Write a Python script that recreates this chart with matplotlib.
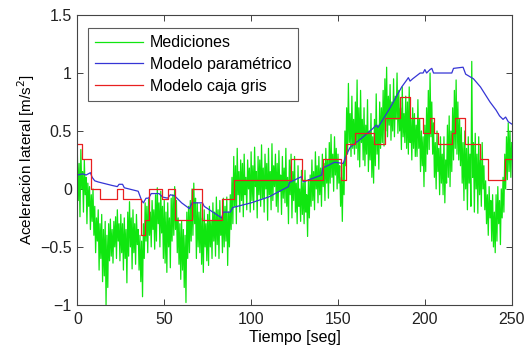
import numpy as np
import matplotlib
matplotlib.use("Agg")
from matplotlib import pyplot as plt

plt.rcParams['font.family'] = ['Liberation Sans', 'DejaVu Sans']

# Mediciones: valores leidos cada 0.5 s (t = 0 ... 250)
mediciones = [
    0.30, -0.10, 0.22, -0.24, 0.34, 0.00, 0.15, -0.20, 0.25, -0.05,
    0.10, -0.30, 0.05, -0.15, 0.02, -0.35, -0.05, -0.28, 0.00, -0.40,
    -0.15, -0.55, -0.25, -0.45, -0.18, -0.70, -0.30, -0.60, -0.22, -0.80,
    -0.35, -0.75, -0.28, -1.00, -0.40, -0.85, -0.30, -0.62, -0.26, -0.58,
    -0.35, -0.64, -0.28, -0.50, -0.24, -0.60, -0.18, -0.45, -0.30, -0.62,
    -0.22, -0.55, -0.30, -0.70, -0.25, -0.60, -0.35, -0.81, -0.20, -0.58,
    -0.11, -0.50, -0.25, -0.69, -0.18, -0.55, -0.30, -0.65, -0.22, -0.48,
    -0.35, -0.70, -0.40, -0.80, -0.45, -0.93, -0.30, -0.60, -0.12, -0.45,
    -0.15, -0.55, -0.09, -0.40, -0.20, -0.50, -0.10, -0.35, -0.18, -0.52,
    -0.05, -0.45, 0.01, -0.30, -0.12, -0.50, -0.02, -0.38, -0.15, -0.60,
    -0.10, -0.64, -0.20, -0.72, -0.12, -0.50, -0.25, -0.68, -0.08, -0.45,
    -0.05, -0.40, 0.02, -0.35, -0.10, -0.55, -0.25, -0.65, -0.30, -0.78,
    -0.28, -0.70, -0.35, -0.85, -0.40, -0.98, -0.20, -0.60, -0.15, -0.55,
    -0.10, -0.45, 0.00, -0.40, 0.05, -0.30, -0.08, -0.60, -0.12, -0.50,
    -0.20, -0.55, -0.13, -0.65, -0.25, -0.72, -0.18, -0.50, -0.30, -0.62,
    -0.22, -0.66, -0.15, -0.50, -0.28, -0.60, -0.12, -0.45, -0.20, -0.58,
    -0.07, -0.48, -0.18, -0.60, -0.10, -0.40, -0.25, -0.55, -0.08, -0.50,
    -0.15, -0.45, -0.07, -0.66, -0.20, -0.50, -0.05, -0.35, 0.10, -0.30,
    0.28, -0.15, 0.20, -0.30, 0.35, -0.05, 0.15, -0.20, 0.25, -0.10,
    0.22, -0.24, 0.30, -0.05, 0.10, -0.18, 0.25, 0.00, 0.18, -0.20,
    0.32, -0.10, 0.20, -0.18, 0.36, 0.02, 0.15, -0.25, 0.28, -0.05,
    0.25, -0.15, 0.38, -0.08, 0.18, -0.20, 0.30, 0.00, 0.22, -0.27,
    0.35, -0.05, 0.15, -0.18, 0.39, -0.10, 0.20, 0.02, 0.30, -0.15,
    0.22, -0.20, 0.33, -0.02, 0.12, -0.22, 0.28, -0.08, 0.18, -0.12,
    0.35, -0.15, 0.10, -0.30, 0.25, -0.05, 0.30, -0.25, 0.15, -0.10,
    0.28, -0.20, 0.05, -0.30, 0.20, -0.15, 0.00, -0.28, 0.16, -0.22,
    0.05, -0.30, 0.16, -0.20, -0.05, -0.41, 0.08, -0.25, 0.12, -0.15,
    0.25, -0.10, 0.15, -0.18, 0.32, 0.00, 0.20, -0.12, 0.28, -0.05,
    0.18, -0.15, 0.30, 0.02, 0.22, -0.10, 0.35, 0.05, 0.25, -0.08,
    0.40, 0.05, 0.47, 0.10, 0.30, -0.02, 0.45, 0.12, 0.35, 0.00,
    0.30, 0.05, 0.20, -0.15, 0.10, -0.28, 0.22, -0.05, 0.50, 0.20,
    0.70, 0.30, 0.91, 0.40, 0.65, 0.28, 0.80, 0.35, 0.60, 0.30,
    0.75, 0.35, 0.94, 0.25, 0.70, 0.19, 0.85, 0.40, 0.60, 0.25,
    0.70, 0.20, 0.55, 0.30, 0.77, 0.15, 0.50, 0.25, 0.65, 0.10,
    0.45, 0.05, 0.60, 0.20, 0.82, 0.30, 0.55, 0.17, 0.75, 0.35,
    0.70, 0.40, 0.85, 0.37, 0.95, 0.50, 1.05, 0.45, 0.80, 0.55,
    0.90, 0.42, 0.75, 0.50, 0.95, 0.45, 0.80, 0.60, 1.00, 0.48,
    0.85, 0.50, 0.70, 0.34, 0.88, 0.45, 0.65, 0.40, 0.80, 0.35,
    0.75, 0.30, 0.88, 0.40, 0.60, 0.25, 0.70, 0.35, 0.65, 0.28,
    0.55, 0.28, 0.77, 0.35, 0.60, 0.15, 0.50, 0.20, 0.45, 0.02,
    0.55, 0.15, 0.70, 0.30, 0.85, 0.34, 1.00, 0.45, 0.75, 0.30,
    0.57, 0.10, 0.40, 0.00, 0.50, 0.15, 0.35, -0.05, 0.45, 0.05,
    0.30, -0.05, 0.45, -0.12, 0.25, 0.05, 0.55, 0.10, 0.63, 0.02,
    0.50, 0.15, 0.70, 0.25, 0.85, 0.35, 0.94, 0.30, 0.75, 0.25,
    0.60, 0.20, 0.53, 0.05, 0.40, -0.10, 0.50, 0.00, 0.35, -0.18,
    0.45, 0.05, 0.30, -0.15, 1.10, 0.10, 0.40, -0.20, 0.48, 0.00,
    0.30, -0.21, 0.45, -0.05, 0.25, -0.15, 0.40, 0.00, 0.20, -0.18,
    0.07, -0.30, -0.05, -0.40, 0.02, -0.25, -0.10, -0.45, -0.05, -0.50,
    -0.20, -0.55, -0.05, -0.45, 0.02, -0.30, -0.10, -0.48, 0.00, -0.25,
    0.10, -0.20, 0.30, 0.00, 0.45, 0.08, 0.57, 0.15, 0.50, 0.10,
    0.40,
]
t_med = np.linspace(0, 250, len(mediciones))

# Modelo parametrico
t_param = [0, 3, 5, 7.5, 8.5, 10, 12, 20, 23, 24, 26, 27, 35, 37, 38, 39.5,
           41, 42.5, 47, 49, 52, 53.5, 56, 60, 64.5, 66, 72, 73, 83, 84, 88,
           89.5, 100, 110, 121.5, 122, 129, 130, 140.6, 141.2, 148, 153, 155,
           157, 163, 170, 172, 173, 180, 186.7, 189.6, 190.5, 191.5, 193,
           197.3, 199, 200, 201, 203, 204, 205, 215.5, 216.5, 222, 223.5,
           228, 232, 237.5, 241, 243, 245, 246.5, 248, 250]
param = [0.12, 0.13, 0.12, 0.14, 0.10, 0.07, 0.06, 0.03, 0.02, 0.04, 0.04,
         0.01, -0.02, -0.10, -0.12, -0.08, -0.08, -0.04, -0.04, -0.07, -0.08,
         -0.05, -0.06, -0.12, -0.17, -0.12, -0.12, -0.15, -0.25, -0.20,
         -0.20, -0.16, -0.12, -0.07, 0.02, 0.055, 0.106, 0.06, 0.12, 0.18,
         0.23, 0.22, 0.30, 0.36, 0.43, 0.52, 0.55, 0.53, 0.70, 0.88, 0.94,
         0.96, 0.93, 0.95, 1.00, 1.00, 1.03, 1.00, 1.03, 1.04, 1.00, 1.00,
         1.04, 1.05, 0.99, 0.95, 0.88, 0.75, 0.68, 0.63, 0.60, 0.62, 0.58,
         0.56]

# Modelo caja gris (escalones)
t_gris = [0, 2.7, 8, 13, 23, 26, 36.5, 39, 41.5, 48.6, 52, 56.4, 65.8, 72,
          83, 90, 122.9, 129.1, 141.5, 151.5, 154.5, 160, 170.5, 177, 185.5,
          191.5, 199, 203, 205.5, 207.5, 215.5, 217.4, 223, 232, 236.5,
          246.2, 250]
gris = [0.39, 0.26, 0.0, -0.09, 0.0, -0.09, -0.40, -0.27, 0.0, -0.09, 0.0,
        -0.27, 0.0, -0.27, -0.09, 0.08, 0.26, 0.08, 0.26, 0.08, 0.39, 0.48,
        0.39, 0.61, 0.79, 0.61, 0.48, 0.61, 0.48, 0.39, 0.48, 0.61, 0.39,
        0.26, 0.08, 0.26, 0.26]

fig = plt.figure(figsize=(5.3, 3.5), dpi=100)
ax = fig.add_axes([0.146, 0.129, 0.8195, 0.828])

ax.plot(t_med, mediciones, color='#10e610', lw=0.9, label='Mediciones')
ax.plot(t_param, param, color='#3535d5', lw=0.9, label='Modelo paramétrico')
ax.step(t_gris, gris, where='post', color='#e82020', lw=0.9,
        label='Modelo caja gris')

ax.set_xlim(0, 250)
ax.set_ylim(-1, 1.5)
ax.set_xticks([0, 50, 100, 150, 200, 250])
ax.set_yticks([-1, -0.5, 0, 0.5, 1, 1.5])
ax.set_yticklabels(['\u22121', '\u22120.5', '0', '0.5', '1', '1.5'])
ax.tick_params(direction='in', length=4, width=0.6, top=True, right=True,
               labelsize=11.5, colors='#222222')
ax.tick_params(axis='x', pad=5)
ax.tick_params(axis='y', pad=4)
for s in ax.spines.values():
    s.set_linewidth(0.8)
    s.set_color('#444444')

ax.set_xlabel('Tiempo [seg]', fontsize=11.5, labelpad=2)
ax.set_ylabel('Aceleración lateral [m/s$^2$]', fontsize=11, labelpad=2)

leg = ax.legend(loc='upper left', bbox_to_anchor=(0.025, 0.955),
                borderaxespad=0, fancybox=False, fontsize=11.5,
                handlelength=3.0, handletextpad=0.4, labelspacing=0.42,
                borderpad=0.45)
leg.get_frame().set_edgecolor('#333333')
leg.get_frame().set_linewidth(0.8)

fig.savefig('out.png', dpi=100)
